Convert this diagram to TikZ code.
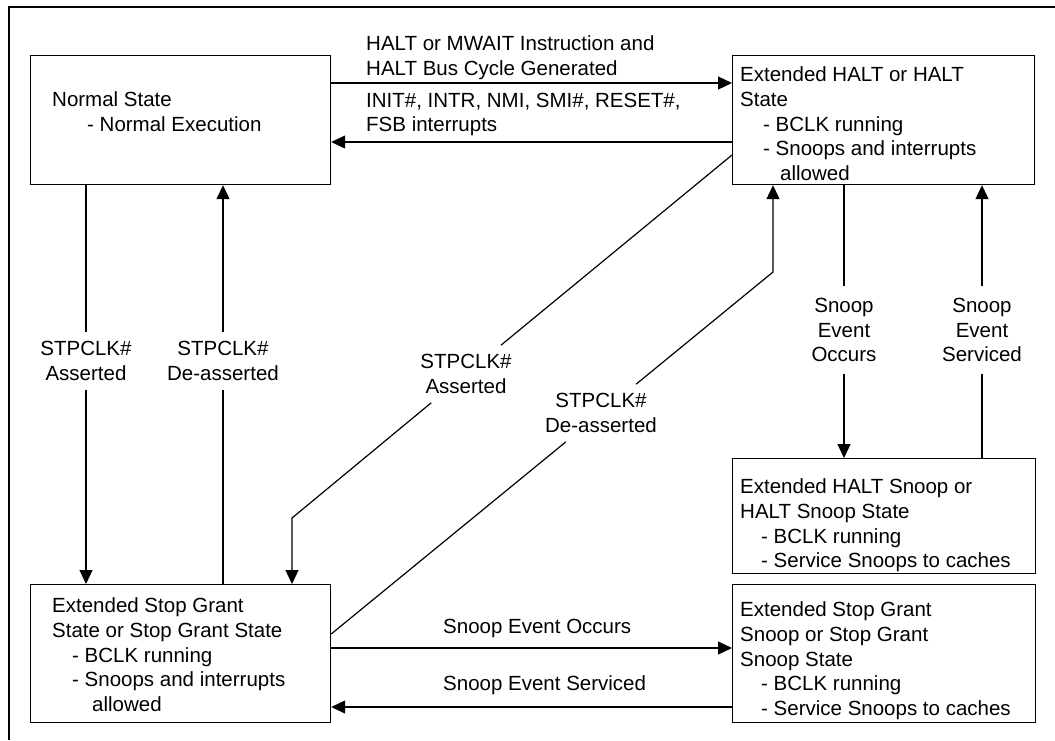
\documentclass[tikz,border=0pt]{standalone}
\usepackage{fontspec}
\setmainfont{Liberation Sans}
\usetikzlibrary{arrows.meta}
\begin{document}
\begin{tikzpicture}[x=1pt,y=-1pt,
  every node/.style={font=\fontsize{20.5pt}{24.75pt}\selectfont},
  box/.style={draw, line width=1.2pt, anchor=north west, inner sep=0pt},
  txt/.style={anchor=north west, align=left, inner sep=0pt},
  one/.style={anchor=base west, inner sep=0pt},
  conn/.style={line width=1.2pt},
  arr/.style={conn, -{Triangle[length=14pt,width=13pt]}},
  lab/.style={align=center, inner xsep=2pt, inner ysep=9pt},
  slab/.style={align=center, inner xsep=2pt, inner ysep=12pt},
]
\useasboundingbox (0,0) rectangle (1055,740);
% outer frame
\draw[line width=2pt] (9,740) -- (9,7) -- (1055,7);

% state boxes
\node[box, minimum width=300pt, minimum height=129pt] (ns) at (30,55) {};
\node[box, minimum width=302pt, minimum height=129pt] (eh) at (732,55) {};
\node[box, minimum width=303pt, minimum height=115pt] (hs) at (732,458) {};
\node[box, minimum width=300pt, minimum height=138pt] (sg) at (30,584) {};
\node[box, minimum width=303pt, minimum height=138pt] (ss) at (732,584) {};

% box texts
\node[txt] (nsT) at (52,91.5) {Normal State\\\hspace*{35pt}- Normal Execution};
\node[txt] (ehT) at (740,66.5) {Extended HALT or HALT\\State\\\hspace*{23pt}- BCLK running\\\hspace*{23pt}- Snoops and interrupts\\\hspace*{40pt}allowed};
\node[txt] (sgT) at (52,597.5) {Extended Stop Grant\\State or Stop Grant State\\\hspace*{20pt}- BCLK running\\\hspace*{20pt}- Snoops and interrupts\\\hspace*{40pt}allowed};
\node[txt] (hsT) at (740,478.5) {Extended HALT Snoop or\\HALT Snoop State\\\hspace*{21pt}- BCLK running\\\hspace*{21pt}- Service Snoops to caches};
\node[txt] (ssT) at (740,601.5) {Extended Stop Grant\\Snoop or Stop Grant\\Snoop State\\\hspace*{21pt}- BCLK running\\\hspace*{21pt}- Service Snoops to caches};

% top transitions
\draw[arr] ([yshift=-28pt]ns.north east) -- ([yshift=-28pt]eh.north west);
\draw[arr] ([yshift=-87pt]eh.north west) -- ([yshift=-87pt]ns.north east);
\node[txt] (lhalt) at (366,35.5) {HALT or MWAIT Instruction and\\HALT Bus Cycle Generated};
\node[txt] (lint) at (366,92.5) {INIT\#, INTR, NMI, SMI\#, RESET\#,\\FSB interrupts};

% left verticals
\node[lab] (la) at (86,361) {STPCLK\#\\Asserted};
\draw[conn] (ns.south -| la.north) -- (la.north);
\draw[arr] (la.south) -- (sg.north -| la.south);
\node[lab] (ld) at (223,361) {STPCLK\#\\De-asserted};
\draw[conn] (sg.north -| ld.south) -- (ld.south);
\draw[arr] (ld.north) -- (ns.south -| ld.north);

% diagonals
\coordinate (c1) at (292,518);
\coordinate (c2) at (773,272);
\node[lab] (las) at (466,374) {STPCLK\#\\Asserted};
\draw[conn] ([yshift=-100pt]eh.north west) -- (las);
\draw[arr] (las) -- (c1) -- (sg.north -| c1);
\node[lab] (lde) at (601,413) {STPCLK\#\\De-asserted};
\draw[conn] ([yshift=-50pt]sg.north east) -- (lde);
\draw[arr] (lde) -- (c2) -- (eh.south -| c2);

% right verticals
\node[slab] (lso) at (844,330) {Snoop\\Event\\Occurs};
\draw[conn] (eh.south -| lso.north) -- (lso.north);
\draw[arr] (lso.south) -- (hs.north -| lso.south);
\node[slab] (lss) at (982,330) {Snoop\\Event\\Serviced};
\draw[conn] (hs.north -| lss.south) -- (lss.south);
\draw[arr] (lss.north) -- (eh.south -| lss.north);

% bottom transitions
\draw[arr] ([yshift=-64pt]sg.north east) -- ([yshift=-64pt]ss.north west);
\draw[arr] ([yshift=-123pt]ss.north west) -- ([yshift=-123pt]sg.north east);
\node[one] (lbo) at (443,633) {Snoop Event Occurs};
\node[one] (lbs) at (443,690) {Snoop Event Serviced};
\end{tikzpicture}
\end{document}
